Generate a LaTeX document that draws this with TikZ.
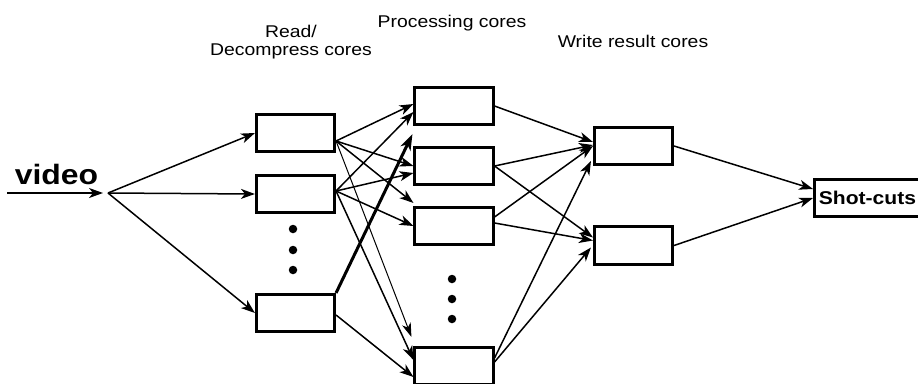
\documentclass[tikz,border=0pt]{standalone}
\usepackage{fontspec}
\setmainfont{Liberation Sans}
\usepackage{graphicx}
\usetikzlibrary{arrows.meta,calc}
\newcommand{\hstretch}[1]{\scalebox{1.14}[1]{#1}}
\begin{document}
\begin{tikzpicture}[x=1pt,y=-1pt,
  box/.style={draw,line width=2.6pt,minimum width=78.5pt,minimum height=37.5pt,inner sep=0pt},
  lbl/.style={anchor=base,inner sep=0pt,font=\fontsize{17}{20}\selectfont},
  arr/.style={line width=1.5pt,-{Stealth[length=14pt,width=10pt,inset=4pt]}},
  thinarr/.style={line width=1pt,-{Stealth[length=14pt,width=9pt,inset=4pt]}},
  thickarr/.style={line width=3pt,-{Stealth[length=16pt,width=11pt,inset=4.5pt]}},
  dot/.style={circle,fill,inner sep=0pt,minimum size=8.5pt}]
\useasboundingbox (0,0) rectangle (918,383);
\clip (0,0) rectangle (918,383);
% labels
\node[lbl] (lread) at (291,37) {\hstretch{Read/}};
\node[lbl] (ldec) at (291,55) {\hstretch{Decompress cores}};
\node[lbl] (lproc) at (452,27) {\hstretch{Processing cores}};
\node[lbl] (lwrite) at (633,47) {\hstretch{Write result cores}};
\node[anchor=base,inner sep=0pt,font=\fontsize{28}{30}\selectfont\bfseries] (video) at (56.5,184) {\hstretch{video}};
% boxes
\node[box] (R1) at (295.5,133) {};
\node[box] (R2) at (295.5,194) {};
\node[box] (R4) at (295.5,313) {};
\node[box] (P1) at (454,106) {};
\node[box] (P2) at (454,166) {};
\node[box] (P3) at (454,226) {};
\node[box] (P4) at (454,366) {};
\node[box] (W1) at (633.5,146) {};
\node[box] (W2) at (633.5,245.5) {};
\node[draw,line width=2.6pt,minimum height=37.5pt,inner xsep=4.5pt,inner ysep=0pt,anchor=west,
  font=\fontsize{18.5}{22}\selectfont\bfseries] (S) at (813,198) {\hstretch{Shot-cuts}};
% dots
\node[dot] (rd1) at (293,229) {};
\node[dot] (rd2) at (293,250) {};
\node[dot] (rd3) at (293,270) {};
\node[dot] (pd1) at (452,279) {};
\node[dot] (pd2) at (452,299) {};
\node[dot] (pd3) at (452,319) {};
% video input
\coordinate (vstart) at (7,193);
\coordinate (vtip) at (103,193);
\coordinate (split) at (108,193);
\draw[arr] (vstart) -- (vtip);
\draw[arr] (split) -- (R1.west);
\draw[arr] (split) -- (R2.west);
\draw[arr] (split) -- (R4.west);
% read -> processing
\coordinate (r1o) at ($(R1.east)+(0,8)$);
\coordinate (r2o) at ($(R2.east)+(0,-3)$);
\coordinate (r4o) at ($(R4.east)+(0,2)$);
\draw[arr] (r1o) -- ($(P1.west)+(0,-2)$);
\draw[arr] (r1o) -- (P2.west);
\draw[arr] (r1o) -- ($(P3.north west)+(0,-3)$);
\draw[thinarr] (r1o) -- ($(P4.north west)+(-2,-9)$);
\draw[arr] (r2o) -- ($(P1.west)+(0,6)$);
\draw[arr] (r2o) -- ($(P2.west)+(0,7)$);
\draw[arr] (r2o) -- (P3.west);
\draw[arr] (r2o) -- ($(P4.west)+(0,-6)$);
\draw[thickarr] (R4.north east) -- ($(P1.south west)+(-1,8)$);
\draw[arr] (r4o) -- ($(P4.west)+(0,11)$);
% processing -> write
\draw[arr] (P1.east) -- ($(W1.west)+(0,-4)$);
\draw[arr] (P2.east) -- ($(W1.west)+(0,-1)$);
\draw[arr] (P2.east) -- ($(W2.west)+(0,-8)$);
\draw[arr] ($(P3.east)+(0,-9)$) -- (W1.west);
\draw[arr] ($(P3.east)+(0,-3)$) -- ($(W2.west)+(0,-5)$);
\draw[arr] ($(P4.east)+(0,-8)$) -- ($(W1.west)+(-2,15)$);
\draw[arr] ($(P4.east)+(0,-4)$) -- ($(W2.west)+(-2,2)$);
% write -> shot-cuts
\draw[arr] (W1.east) -- ($(S.west)+(0,-9)$);
\draw[arr] (W2.east) -- (S.west);
\end{tikzpicture}
\end{document}
